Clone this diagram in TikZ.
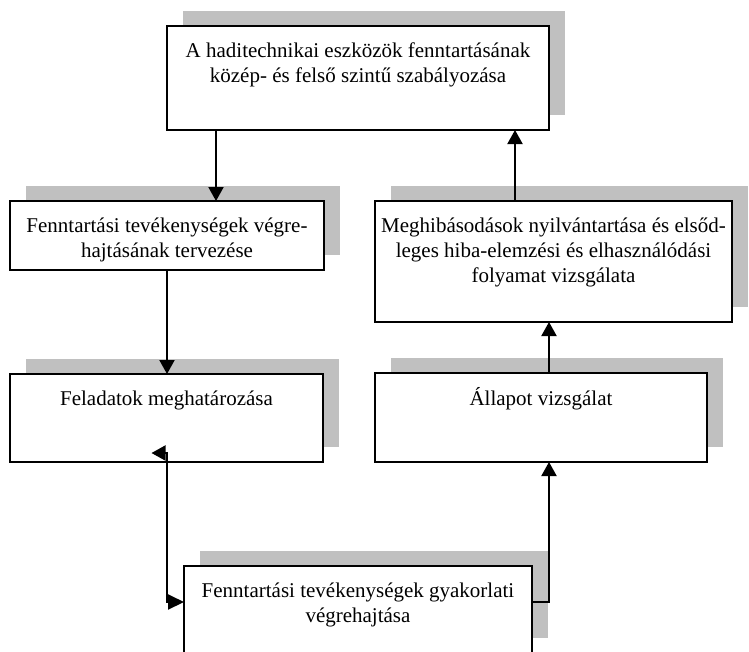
\documentclass[tikz,border=0pt]{standalone}
\usepackage{fontspec}
\setmainfont{Liberation Serif}
\usetikzlibrary{calc,shadows,arrows.meta}
\definecolor{shadowgray}{RGB}{192,192,192}
% box contents: width, height, lines (top aligned, centred)
\newcommand\boxcontent[3]{\parbox[t][#2][t]{#1}{\centering\vspace*{14.5pt}\strut#3\par}}
\begin{document}
\begin{tikzpicture}[x=1pt,y=1pt,
  box/.style={draw, line width=2pt, fill=white, inner sep=0pt, outer sep=0pt,
    anchor=north west, font=\fontsize{21}{24.8}\selectfont,
    general shadow={fill=shadowgray, shadow xshift=16pt, shadow yshift=15pt}},
  link/.style={line width=2pt, -{Triangle[length=14pt,width=15pt]}}]
\useasboundingbox (0,0) rectangle (749,-651);

\node[box] (top) at (167,-26)
  {\boxcontent{382pt}{104pt}{A haditechnikai eszközök fenntartásának\\közép- és felső szintű szabályozása}};
\node[box] (plan) at (10,-201)
  {\boxcontent{314pt}{69pt}{Fenntartási tevékenységek végre-\\hajtásának tervezése}};
\node[box] (fault) at (375,-201)
  {\boxcontent{357pt}{121pt}{Meghibásodások nyilvántartása és elsőd-\\leges hiba-elemzési és elhasználódási\\folyamat vizsgálata}};
\node[box] (tasks) at (10,-374)
  {\boxcontent{313pt}{88pt}{Feladatok meghatározása}};
\node[box] (state) at (375,-373)
  {\boxcontent{332pt}{89pt}{Állapot vizsgálat}};
\node[box] (exec) at (184,-566)
  {\boxcontent{348pt}{87pt}{Fenntartási tevékenységek gyakorlati\\végrehajtása}};

% downward flow on the left
\coordinate (t1) at ($(top.south west)+(49,0)$);
\draw[link] (t1) -- (t1 |- plan.north);
\draw[link] (plan.south) -- (plan.south |- tasks.north);

% feedback from execution back to the task list
\coordinate (xL) at ($(exec.north west)+(0,-36)$);
\coordinate (tA) at ($(tasks.south)+(0,9)$);
\coordinate (tTip) at ($(tasks.south)+(-15,9)$);
\draw[line width=2pt, {Triangle[length=14pt,width=15pt]}-{Triangle[length=16pt,width=15pt]}]
  (tTip) -- (tA) -- (tA |- xL) -- (xL);

% upward flow on the right
\coordinate (xR) at ($(exec.north east)+(0,-36)$);
\coordinate (sB) at ($(state.south west)+(174,0)$);
\draw[link] (xR) -- (xR -| sB) -- (sB);
\draw[link] (sB |- state.north) -- (sB |- fault.south);
\coordinate (fT) at ($(fault.north west)+(140,0)$);
\draw[link] (fT) -- (fT |- top.south);
\end{tikzpicture}
\end{document}
